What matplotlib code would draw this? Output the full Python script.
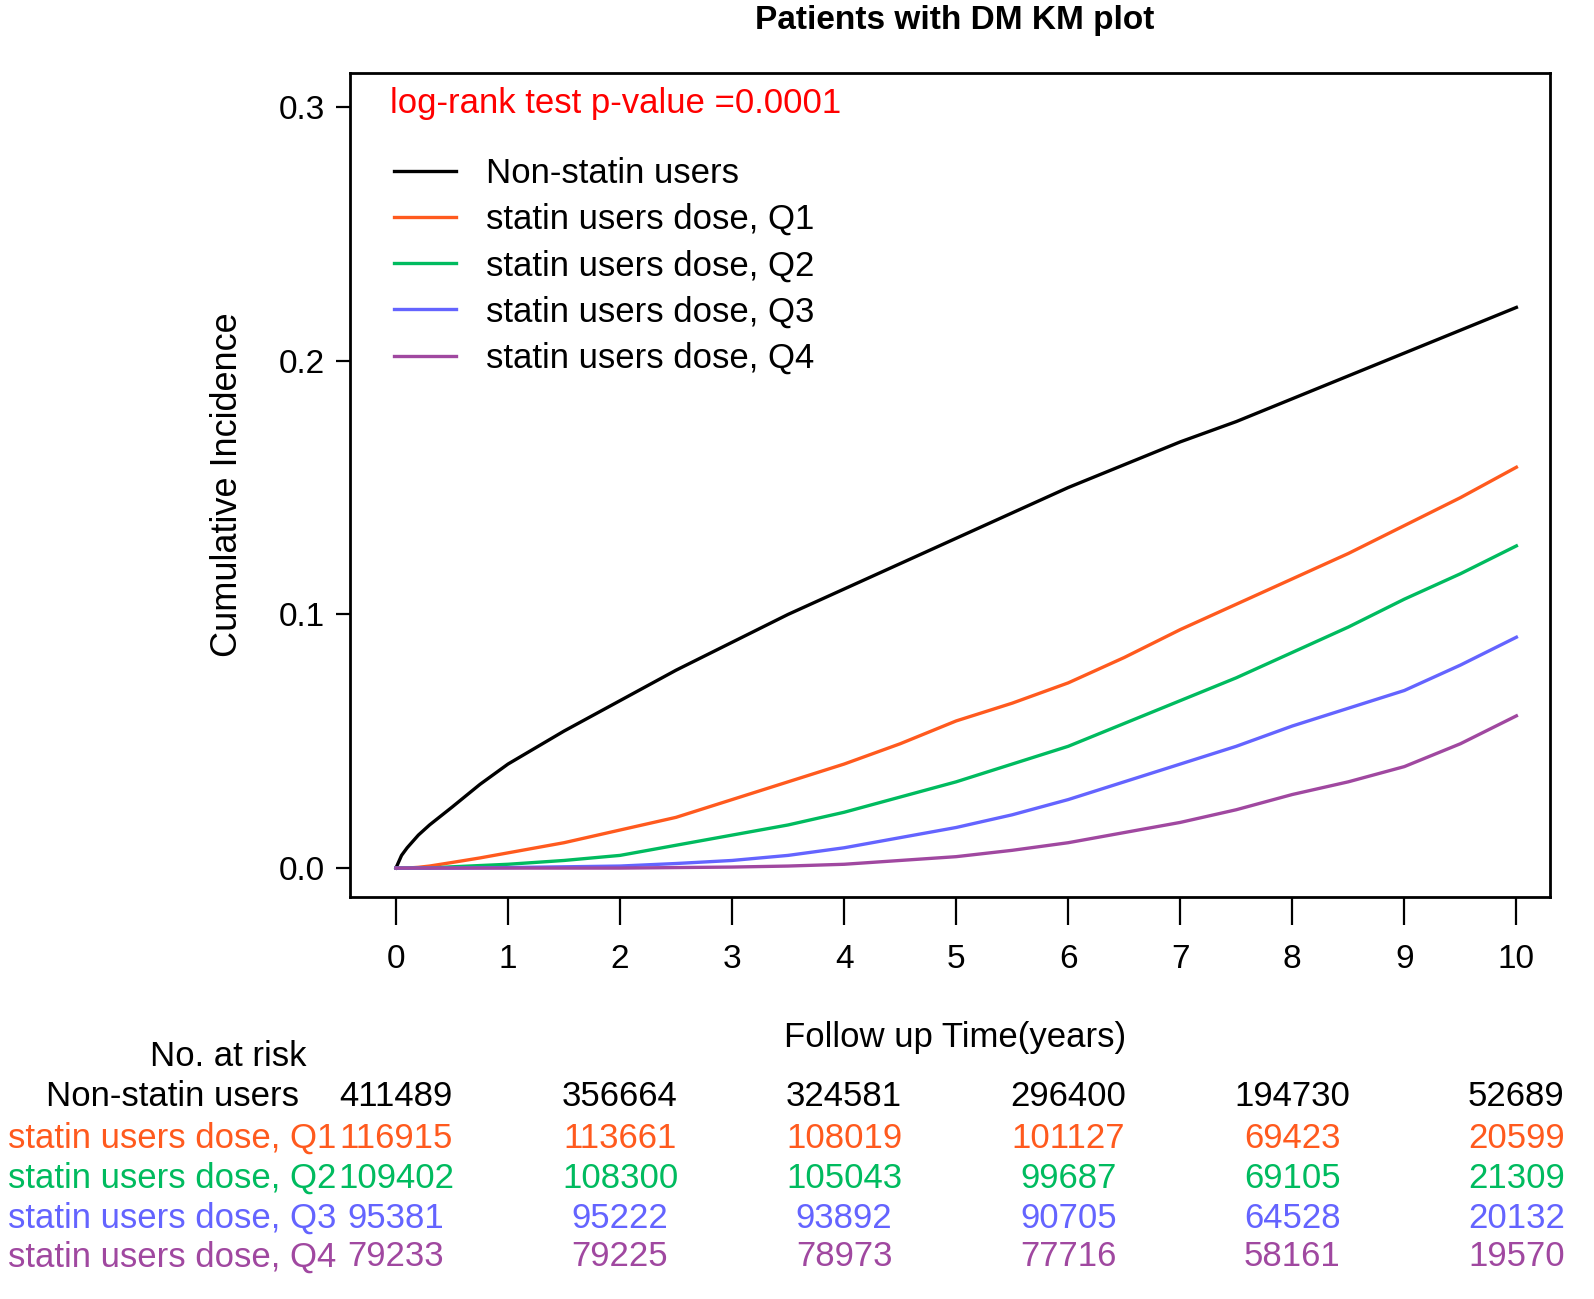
import matplotlib
matplotlib.use('Agg')
import matplotlib.pyplot as plt
from matplotlib.transforms import blended_transform_factory

# ---------------------------------------------------------------- data

years = [0, 0.05, 0.1, 0.2, 0.3, 0.5, 0.75, 1, 1.5, 2, 2.5, 3, 3.5, 4, 4.5,
         5, 5.5, 6, 6.5, 7, 7.5, 8, 8.5, 9, 9.5, 10]

non_statin = [0, 0.005, 0.008, 0.013, 0.017, 0.024, 0.033, 0.041, 0.054, 0.066,
              0.078, 0.089, 0.100, 0.110, 0.120, 0.130, 0.140, 0.150, 0.159,
              0.168, 0.176, 0.185, 0.194, 0.203, 0.212, 0.221]
q1 = [0, 0, 0, 0.0003, 0.0008, 0.0022, 0.004, 0.006, 0.010, 0.015, 0.020,
      0.027, 0.034, 0.041, 0.049, 0.058, 0.065, 0.073, 0.083, 0.094, 0.104,
      0.114, 0.124, 0.135, 0.146, 0.158]
q2 = [0, 0, 0, 0, 0, 0.0005, 0.001, 0.0015, 0.003, 0.005, 0.009, 0.013, 0.017,
      0.022, 0.028, 0.034, 0.041, 0.048, 0.057, 0.066, 0.075, 0.085, 0.095,
      0.106, 0.116, 0.127]
q3 = [0, 0, 0, 0, 0, 0, 0.0001, 0.0002, 0.0005, 0.0008, 0.0018, 0.003, 0.005,
      0.008, 0.012, 0.016, 0.021, 0.027, 0.034, 0.041, 0.048, 0.056, 0.063,
      0.070, 0.080, 0.091]
q4 = [0, 0, 0, 0, 0, 0, 0, 0, 0, 0, 0.0002, 0.0004, 0.0008, 0.0015, 0.003,
      0.0045, 0.007, 0.010, 0.014, 0.018, 0.023, 0.029, 0.034, 0.040, 0.049,
      0.060]

series_labels = ["Non-statin users", "statin users dose, Q1", "statin users dose, Q2",
                 "statin users dose, Q3", "statin users dose, Q4"]
series_colors = ["#000000", "#FF5A1E", "#00BB5F", "#6464FF", "#A048A0"]

risk_times = [0, 2, 4, 6, 8, 10]
risk_counts = [
    [411489, 356664, 324581, 296400, 194730, 52689],
    [116915, 113661, 108019, 101127, 69423, 20599],
    [109402, 108300, 105043, 99687, 69105, 21309],
    [95381, 95222, 93892, 90705, 64528, 20132],
    [79233, 79225, 78973, 77716, 58161, 19570],
]

# ---------------------------------------------------------------- plot

plt.rcParams['font.family'] = ['Liberation Sans', 'DejaVu Sans']
W, H = 1594, 1299
fig = plt.figure(figsize=(W / 100, H / 100), dpi=100)
ax = fig.add_axes([350 / W, 1 - 897 / H, 1200 / W, 824 / H])

for ys, lab, col in zip([non_statin, q1, q2, q3, q4], series_labels, series_colors):
    ax.plot(years, ys, color=col, lw=2.4, label=lab)

ax.set_xlim(-0.41, 10.30)
ax.set_ylim(-0.0114, 0.3134)
ax.set_xticks(range(0, 11))
ax.set_yticks([0.0, 0.1, 0.2, 0.3])
ax.set_yticklabels(["0.0", "0.1", "0.2", "0.3"])
for sp in ax.spines.values():
    sp.set_linewidth(2.0)
ax.tick_params(axis='x', direction='out', length=20, width=1.6, pad=14, labelsize=24)
ax.tick_params(axis='y', direction='out', length=10, width=1.6, pad=8, labelsize=24)

ax.set_ylabel("Cumulative Incidence", fontsize=26, labelpad=24)
fig.text(955 / W, 1 - 20 / H, "Patients with DM KM plot", ha='center', va='center',
         fontsize=24, fontweight='bold')
fig.text(955 / W, 1 - 1038 / H, "Follow up Time(years)", ha='center', va='center',
         fontsize=25)

ax.text(390 / W, 1 - 103 / H, "log-rank test p-value =0.0001", color='#FF0000',
        fontsize=25, ha='left', va='center', transform=fig.transFigure)

leg = ax.legend(loc='upper left', bbox_to_anchor=(0.025, 0.915), frameon=False,
                fontsize=25, handlelength=1.8, handletextpad=0.85, labelspacing=0.38,
                borderaxespad=0)

# ---------------------------------------------------------------- risk table

trans = blended_transform_factory(ax.transData, fig.transFigure)
row_y = [1097, 1138, 1178, 1218, 1257]
fig.text(228 / W, 1 - 1057 / H, "No. at risk", ha='center', va='center', fontsize=25)
for i, (lab, col) in enumerate(zip(series_labels, series_colors)):
    y = 1 - row_y[i] / H
    fig.text(172 / W, y, lab, ha='center', va='center', color=col, fontsize=25)
    for t, n in zip(risk_times, risk_counts[i]):
        ax.text(t, y, str(n), ha='center', va='center', color=col, fontsize=25,
                transform=trans, clip_on=False)

fig.savefig('out.png', dpi=100)
